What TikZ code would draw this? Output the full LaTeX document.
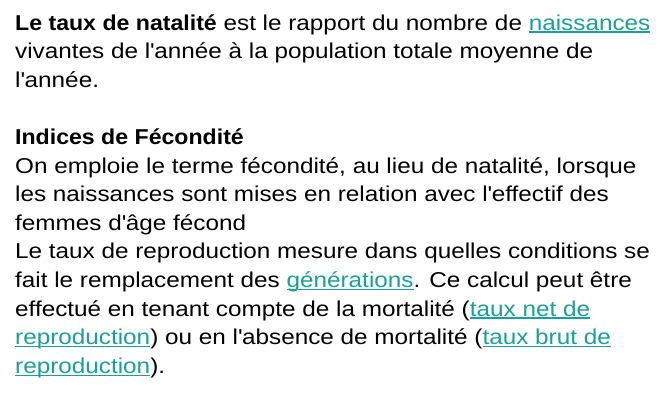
\documentclass[tikz,border=0pt]{standalone}
\usepackage{fontspec}
\setmainfont{Liberation Sans}[FakeStretch=1.13,BoldFeatures={FakeStretch=1.075}]
\definecolor{linkcol}{RGB}{26,160,154}
\newcommand\lnk[1]{{\color{linkcol}\setbox0\hbox{#1}\rlap{\rule[-2.6pt]{\wd0}{1.3pt}}\box0}}
\newcommand\ap{\textquotesingle}
\begin{document}
\begin{tikzpicture}[x=1pt,y=1pt,
  txt/.style={anchor=base west,inner sep=0pt,font=\fontsize{21.5}{25}\selectfont,text=black}]
\useasboundingbox[fill=white] (0,0) rectangle (667,-413);
\node[txt] (l0) at (15,-30) {\textbf{Le taux de natalité} est le rapport du nombre de \lnk{naissances}};
\node[txt] (l1) at (15,-58.6) {vivantes de l\ap année à la population totale moyenne de};
\node[txt] (l2) at (15,-87.2) {l\ap année.};
\node[txt] (l4) at (15,-144.4) {\textbf{Indices de Fécondité}};
\node[txt] (l5) at (15,-173) {On emploie le terme fécondité, au lieu de natalité, lorsque};
\node[txt] (l6) at (15,-201.6) {les naissances sont mises en relation avec l\ap effectif des};
\node[txt] (l7) at (15,-230.2) {femmes d\ap âge fécond};
\node[txt] (l8) at (15,-258.8) {Le taux de reproduction mesure dans quelles conditions se};
\node[txt] (l9) at (15,-287.4) {fait le remplacement des \lnk{générations}. Ce calcul peut être};
\node[txt] (l10) at (15,-316) {effectué en tenant compte de la mortalité (\lnk{taux net de}};
\node[txt] (l11) at (15,-344.6) {\lnk{reproduction}) ou en l\ap absence de mortalité (\lnk{taux brut de}};
\node[txt] (l12) at (15,-373.2) {\lnk{reproduction}).};
\end{tikzpicture}
\end{document}
